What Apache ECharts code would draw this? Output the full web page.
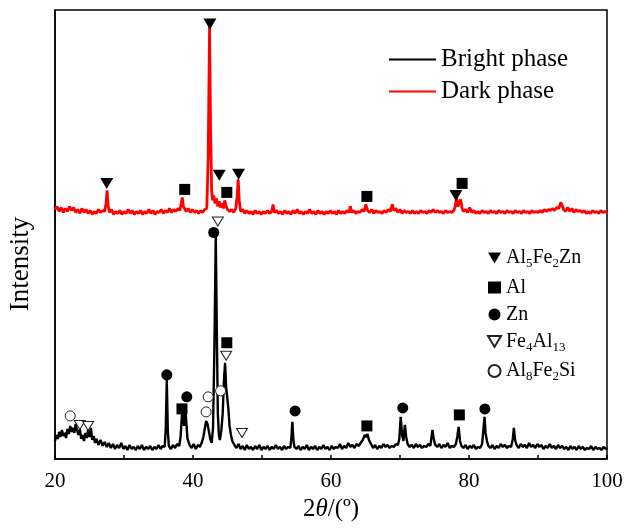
<!DOCTYPE html>
<html>
<head>
  <meta charset="utf-8">
  <title>XRD</title>
  <script src="https://cdn.jsdelivr.net/npm/echarts@6.0.0/dist/echarts.min.js"></script>
</head>
<body style="margin:0">
<div id="main" style="width:628px;height:530px;"></div>
<script>
  // 2theta / intensity (arbitrary units)
  var brightPhase = [
    [20.0,18],[20.2,24],[20.4,20],[20.6,27],[20.8,22],[21.0,29],[21.2,23],[21.4,26],[21.6,21],[21.8,30],[22.0,25],[22.2,33],[22.4,27],[22.6,31],[22.8,26],[23.0,35],[23.2,28],[23.4,24],[23.6,30],[23.8,20],[24.0,24],[24.2,18],[24.4,26],[24.6,21],[24.8,29],[25.0,22],[25.2,31],[25.4,19],[25.6,23],[25.8,16],[26.0,20],[26.3,14],[26.6,19],[26.9,13],[27.2,17],[27.5,12],[27.8,16],[28.1,11],[28.4,15],[28.7,10],[29.0,14],[29.3,11],[29.6,16],[29.9,10],[30.2,13],[30.5,9],[30.8,14],[31.1,10],[31.4,12],[31.7,9],[32.0,13],[32.3,10],[32.6,14],[32.9,9],[33.2,12],[33.5,10],[33.8,13],[34.1,9],[34.4,12],[34.7,10],[35.0,14],[35.3,10],[35.6,13],[35.9,12],[36.05,30],[36.2,79],[36.35,28],[36.5,13],[36.8,10],[37.1,14],[37.4,11],[37.7,15],[38.0,13],[38.2,22],[38.4,44],[38.55,49],[38.7,33],[38.85,52],[39.0,40],[39.2,20],[39.5,14],[39.8,11],[40.1,15],[40.4,10],[40.7,14],[41.0,12],[41.3,17],[41.5,22],[41.7,30],[41.9,38],[42.1,35],[42.3,28],[42.5,20],[42.7,16],[42.9,30],[43.1,110],[43.3,222],[43.45,130],[43.6,45],[43.75,24],[43.9,19],[44.1,28],[44.3,45],[44.5,80],[44.65,96],[44.8,72],[44.95,62],[45.1,52],[45.3,33],[45.5,24],[45.7,18],[46.0,14],[46.3,11],[46.6,15],[46.9,10],[47.2,13],[47.5,9],[47.8,14],[48.1,10],[48.4,12],[48.7,9],[49.0,13],[49.3,10],[49.6,14],[49.9,9],[50.2,12],[50.5,10],[50.8,13],[51.1,9],[51.4,12],[51.7,10],[52.0,14],[52.3,10],[52.6,12],[52.9,9],[53.2,13],[53.5,10],[53.8,12],[54.1,11],[54.25,20],[54.4,37],[54.55,19],[54.7,12],[55.0,10],[55.3,13],[55.6,9],[55.9,12],[56.2,10],[56.5,14],[56.8,9],[57.1,12],[57.4,10],[57.7,13],[58.0,9],[58.3,12],[58.6,10],[58.9,14],[59.2,10],[59.5,12],[59.8,9],[60.1,13],[60.4,10],[60.7,12],[61.0,11],[61.3,15],[61.6,10],[61.9,13],[62.2,11],[62.5,16],[62.8,12],[63.1,14],[63.4,11],[63.7,15],[64.0,13],[64.3,16],[64.6,19],[64.9,24],[65.1,22],[65.3,25],[65.5,19],[65.8,15],[66.1,11],[66.4,14],[66.7,10],[67.0,13],[67.3,11],[67.6,15],[67.9,12],[68.2,14],[68.5,11],[68.8,13],[69.1,12],[69.4,15],[69.7,14],[69.9,20],[70.1,42],[70.3,24],[70.5,18],[70.7,34],[70.9,22],[71.1,15],[71.4,12],[71.7,14],[72.0,11],[72.3,15],[72.6,12],[72.9,14],[73.2,11],[73.5,13],[73.8,12],[74.1,15],[74.4,13],[74.7,29],[74.9,20],[75.1,14],[75.4,12],[75.7,15],[76.0,11],[76.3,14],[76.6,12],[76.9,16],[77.2,11],[77.5,13],[77.8,12],[78.1,15],[78.3,22],[78.5,32],[78.7,18],[78.9,13],[79.2,11],[79.5,14],[79.8,10],[80.1,13],[80.4,11],[80.7,14],[81.0,10],[81.3,12],[81.6,11],[81.9,15],[82.1,30],[82.25,42],[82.4,26],[82.6,18],[82.8,13],[83.1,11],[83.4,14],[83.7,10],[84.0,13],[84.3,11],[84.6,15],[84.9,12],[85.2,14],[85.5,11],[85.8,13],[86.1,12],[86.35,20],[86.5,31],[86.7,18],[86.9,14],[87.2,11],[87.5,15],[87.8,12],[88.1,14],[88.4,11],[88.7,16],[89.0,12],[89.3,14],[89.6,11],[89.9,15],[90.2,12],[90.5,14],[90.8,10],[91.1,13],[91.4,11],[91.7,15],[92.0,11],[92.3,13],[92.6,10],[92.9,14],[93.2,11],[93.5,13],[93.8,10],[94.1,12],[94.4,9],[94.7,13],[95.0,10],[95.3,12],[95.6,9],[95.9,13],[96.2,10],[96.5,12],[96.8,9],[97.1,11],[97.4,10],[97.7,13],[98.0,9],[98.3,12],[98.6,10],[98.9,11],[99.2,9],[99.5,12],[99.8,10],[100,11]
  ];
  var darkPhase = [
    [20.0,249],[20.3,252],[20.6,247],[20.9,251],[21.2,246],[21.5,250],[21.8,247],[22.1,252],[22.4,248],[22.7,251],[23.0,246],[23.3,249],[23.6,245],[23.9,250],[24.2,246],[24.5,249],[24.8,245],[25.1,248],[25.4,244],[25.7,247],[26.0,245],[26.3,249],[26.6,246],[26.9,248],[27.2,247],[27.4,255],[27.55,268],[27.7,253],[27.9,246],[28.2,249],[28.5,244],[28.8,247],[29.1,245],[29.4,248],[29.7,244],[30.0,247],[30.3,245],[30.6,249],[30.9,245],[31.2,248],[31.5,244],[31.8,247],[32.1,245],[32.4,248],[32.7,244],[33.0,247],[33.3,245],[33.6,249],[33.9,245],[34.2,248],[34.5,244],[34.8,247],[35.1,246],[35.4,249],[35.7,245],[36.0,248],[36.3,246],[36.6,250],[36.9,246],[37.2,249],[37.5,247],[37.8,250],[38.1,248],[38.3,255],[38.45,261],[38.6,252],[38.8,250],[39.0,247],[39.3,250],[39.6,246],[39.9,249],[40.2,246],[40.5,248],[40.8,245],[41.1,248],[41.4,246],[41.7,249],[42.0,250],[42.2,300],[42.4,431],[42.55,330],[42.7,268],[42.85,258],[43.0,263],[43.2,255],[43.4,260],[43.6,252],[43.8,257],[44.0,251],[44.2,255],[44.4,250],[44.6,258],[44.8,252],[45.0,249],[45.3,247],[45.6,249],[45.9,246],[46.2,250],[46.4,262],[46.55,279],[46.7,258],[46.9,247],[47.2,249],[47.5,245],[47.8,248],[48.1,245],[48.4,247],[48.7,244],[49.0,248],[49.3,245],[49.6,247],[49.9,244],[50.2,247],[50.5,245],[50.8,248],[51.1,245],[51.4,247],[51.6,254],[51.8,246],[52.1,248],[52.4,245],[52.7,247],[53.0,244],[53.3,248],[53.6,245],[53.9,247],[54.2,244],[54.5,248],[54.8,245],[55.1,249],[55.4,245],[55.7,247],[56.0,244],[56.3,247],[56.6,245],[56.9,249],[57.2,245],[57.5,247],[57.8,244],[58.1,248],[58.4,245],[58.7,247],[59.0,244],[59.3,247],[59.6,245],[59.9,248],[60.2,245],[60.5,247],[60.8,244],[61.1,248],[61.4,245],[61.7,247],[62.0,245],[62.3,248],[62.6,246],[62.8,252],[63.0,246],[63.3,248],[63.6,245],[63.9,247],[64.2,246],[64.5,249],[64.8,247],[65.05,254],[65.3,248],[65.6,246],[65.9,249],[66.2,245],[66.5,248],[66.8,246],[67.1,247],[67.4,245],[67.7,248],[68.0,246],[68.3,249],[68.6,247],[68.9,254],[69.1,248],[69.4,250],[69.7,246],[70.0,249],[70.3,245],[70.6,248],[70.9,246],[71.2,247],[71.5,245],[71.8,248],[72.1,245],[72.4,247],[72.7,245],[73.0,248],[73.3,246],[73.6,247],[73.9,245],[74.2,248],[74.5,246],[74.8,249],[75.1,246],[75.4,248],[75.7,246],[76.0,247],[76.3,245],[76.6,248],[76.9,246],[77.2,247],[77.5,246],[77.8,248],[78.0,252],[78.2,261],[78.4,252],[78.6,256],[78.8,259],[79.0,250],[79.2,247],[79.5,249],[79.8,246],[80.1,251],[80.4,246],[80.7,248],[81.0,245],[81.3,247],[81.6,245],[81.9,248],[82.2,246],[82.5,247],[82.8,245],[83.1,248],[83.4,246],[83.7,247],[84.0,245],[84.3,248],[84.6,246],[84.9,247],[85.2,245],[85.5,248],[85.8,246],[86.1,247],[86.4,245],[86.7,248],[87.0,246],[87.3,247],[87.6,245],[87.9,248],[88.2,246],[88.5,247],[88.8,245],[89.1,248],[89.4,246],[89.7,247],[90.0,246],[90.3,248],[90.6,246],[90.9,249],[91.2,247],[91.5,249],[91.8,248],[92.1,250],[92.4,248],[92.7,251],[93.0,250],[93.3,256],[93.5,253],[93.7,249],[94.0,247],[94.3,251],[94.6,247],[94.9,250],[95.2,246],[95.5,249],[95.8,247],[96.1,248],[96.4,246],[96.7,248],[97.0,245],[97.3,247],[97.6,245],[97.9,248],[98.2,246],[98.5,247],[98.8,245],[99.1,248],[99.4,246],[99.7,247],[100,246]
  ];

  // phase markers [2theta, height]
  var al5fe2zn = [[27.5,275],[42.45,434],[43.8,283],[46.6,284],[78.1,263]];
  var al = [[38.8,269],[44.9,266],[65.2,262],[79.0,275],[38.4,50],[44.9,116],[65.2,33],[78.6,44]];
  var zn = [[43.0,226],[36.2,84],[39.1,62],[54.8,48],[70.4,51],[82.3,50]];
  var fe4al13 = [[43.6,237],[44.8,103],[23.6,34],[24.8,33],[47.1,26]];
  var al8fe2si = [[22.2,43],[42.2,62],[41.9,47],[44.0,68]];

  var xTicks = [20, 40, 60, 80, 100];
  var phaseNames = ['Al5Fe2Zn', 'Al', 'Zn', 'Fe4Al13', 'Al8Fe2Si'];
  var phaseLabels = {
    'Al5Fe2Zn': '{n|Al}{s|5}{n|Fe}{s|2}{n|Zn}',
    'Al': '{n|Al}',
    'Zn': '{n|Zn}',
    'Fe4Al13': '{n|Fe}{s|4}{n|Al}{s|13}',
    'Al8Fe2Si': '{n|Al}{s|8}{n|Fe}{s|2}{n|Si}'
  };

  var serif = '"Liberation Serif", "Times New Roman", serif';
  var downTri = 'path://M0,0 L12,0 L6,10 Z';

  var myChart = echarts.init(document.getElementById('main'));
  myChart.setOption({
    animation: false,
    textStyle: { fontFamily: serif },
    grid: {
      left: 55, right: 21, top: 10, bottom: 71,
      show: true, borderColor: '#000', borderWidth: 1.5
    },
    legend: [{
      data: ['Bright phase', 'Dark phase'],
      orient: 'vertical',
      left: 384, top: 42,
      itemWidth: 47, itemHeight: 2, itemGap: 7,
      icon: 'rect',
      textStyle: { fontFamily: serif, fontSize: 25, color: '#000' }
    }, {
      data: phaseNames,
      orient: 'vertical',
      left: 482, top: 243,
      itemWidth: 13, itemHeight: 12, itemGap: 7,
      formatter: function (name) { return phaseLabels[name]; },
      textStyle: {
        fontFamily: serif, color: '#000',
        rich: {
          n: { fontFamily: serif, fontSize: 20, color: '#000' },
          s: { fontFamily: serif, fontSize: 13, color: '#000', padding: [12, 0, 0, 0] }
        }
      }
    }],
    xAxis: {
      type: 'value',
      min: 20, max: 100, interval: 10,
      name: '2{i|θ}/(º)',
      nameLocation: 'middle',
      nameGap: 34,
      nameTextStyle: {
        fontFamily: serif, fontSize: 25, color: '#000',
        rich: { i: { fontFamily: serif, fontSize: 25, fontStyle: 'italic', color: '#000' } }
      },
      axisLine: { lineStyle: { color: '#000', width: 1.5 } },
      axisTick: { inside: true, length: 4, lineStyle: { color: '#000', width: 1.5 } },
      axisLabel: {
        fontFamily: serif, fontSize: 21, color: '#000', margin: 12,
        formatter: function (v) { return xTicks.indexOf(v) >= 0 ? String(v) : ''; }
      },
      splitLine: { show: false }
    },
    yAxis: {
      type: 'value',
      min: 0, max: 448,
      axisLine: { show: true, lineStyle: { color: '#000', width: 1.5 } },
      axisTick: { show: false },
      axisLabel: { show: false },
      splitLine: { show: false }
    },
    graphic: [{
      type: 'text',
      x: 21, y: 264,
      rotation: Math.PI / 2,
      style: {
        text: 'Intensity',
        font: '27px ' + serif,
        fill: '#000',
        align: 'center',
        verticalAlign: 'middle'
      }
    }],
    series: [{
      name: 'Bright phase', type: 'line', data: brightPhase,
      showSymbol: false, color: '#000',
      lineStyle: { color: '#000', width: 2.4 }
    }, {
      name: 'Dark phase', type: 'line', data: darkPhase,
      showSymbol: false, color: '#ff0000',
      lineStyle: { color: '#ff0000', width: 2.8 }
    }, {
      name: 'Al5Fe2Zn', type: 'scatter', data: al5fe2zn,
      symbol: downTri, symbolSize: [13, 11], z: 5,
      itemStyle: { color: '#000', opacity: 1 }
    }, {
      name: 'Al', type: 'scatter', data: al,
      symbol: 'rect', symbolSize: 11, z: 5,
      itemStyle: { color: '#000', opacity: 1 }
    }, {
      name: 'Zn', type: 'scatter', data: zn,
      symbol: 'circle', symbolSize: 11, z: 5,
      itemStyle: { color: '#000', opacity: 1 }
    }, {
      name: 'Fe4Al13', type: 'scatter', data: fe4al13,
      symbol: downTri, symbolSize: [11, 9], z: 5,
      itemStyle: { color: '#fff', borderColor: '#222', borderWidth: 1, opacity: 1 }
    }, {
      name: 'Al8Fe2Si', type: 'scatter', data: al8fe2si,
      symbol: 'circle', symbolSize: 10, z: 5,
      itemStyle: { color: '#fff', borderColor: '#222', borderWidth: 1, opacity: 1 }
    }]
  });
</script>
</body>
</html>
